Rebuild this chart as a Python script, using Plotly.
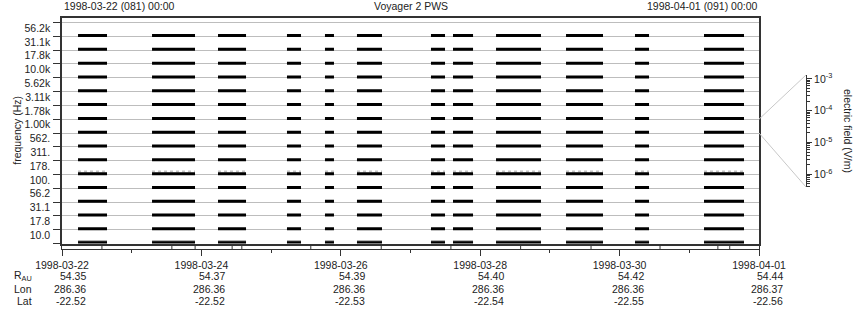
import plotly.graph_objects as go

W, H = 860, 320

# ---------------- data ----------------
freq_labels = ["10.0", "17.8", "31.1", "56.2", "100.", "178.", "311.", "562.",
               "1.00k", "1.78k", "3.11k", "5.62k", "10.0k", "17.8k", "31.1k", "56.2k"]

obs_start = ["1998-03-22 05:31", "1998-03-23 07:00", "1998-03-24 05:43", "1998-03-25 05:28",
             "1998-03-25 18:33", "1998-03-26 05:34", "1998-03-27 07:03", "1998-03-27 14:38",
             "1998-03-28 05:27", "1998-03-29 05:33", "1998-03-30 05:18", "1998-03-31 05:04"]
obs_end = ["1998-03-22 15:30", "1998-03-23 21:48", "1998-03-24 15:22", "1998-03-25 10:18",
           "1998-03-25 21:39", "1998-03-26 14:11", "1998-03-27 11:53", "1998-03-27 21:32",
           "1998-03-28 20:56", "1998-03-29 18:17", "1998-03-30 10:08", "1998-03-31 18:50"]

strip_marks = ["1998-03-22 13:45", "1998-03-23 13:50", "1998-03-23 21:50", "1998-03-24 10:35",
               "1998-03-24 13:55", "1998-03-25 13:40", "1998-03-26 13:55", "1998-03-27 13:55",
               "1998-03-28 13:55", "1998-03-29 14:10", "1998-03-30 13:55", "1998-03-31 09:50",
               "1998-03-31 13:55"]

date_ticks = ["1998-03-22", "1998-03-24", "1998-03-26", "1998-03-28", "1998-03-30", "1998-04-01"]
r_au = ["54.35", "54.37", "54.39", "54.40", "54.42", "54.44"]
lon = ["286.36", "286.36", "286.36", "286.36", "286.36", "286.37"]
lat = ["-22.52", "-22.52", "-22.53", "-22.54", "-22.55", "-22.56"]

cbar_tickvals = [1e-3, 1e-4, 1e-5, 1e-6]
cbar_ticktext = ["10<sup>-3</sup>", "10<sup>-4</sup>", "10<sup>-5</sup>", "10<sup>-6</sup>"]

t_start, t_end = "1998-03-22 00:00", "1998-04-01 00:00"
top_left = "1998-03-22 (081) 00:00"
top_right = "1998-04-01 (091) 00:00"
title = "Voyager 2 PWS"

# ---------------- layout geometry ----------------
def px(x):
    return x / W

def py(y):
    return 1 - y / H

PL, PR, PT, PB = 62, 759, 18, 243.5
YMAX = 16.33
band_h = (PB - PT) / YMAX

def band_py(b):
    return py(PB - b * band_h)

FONT = "Liberation Sans, Arial, sans-serif"
TXT = "#222"
FRAME = "#333"
nb = len(freq_labels)

fig = go.Figure()

# grey speckle rows (drawn under the black bars)
for row, col, off, dash in [(5, "#c4c4c4", 0.21, "dot"), (0, "#9a9a9a", 0.17, "solid")]:
    xs, ys = [], []
    for s, e in zip(obs_start, obs_end):
        xs += [s, e, None]
        ys += [row + off, row + off, None]
    fig.add_trace(go.Scatter(x=xs, y=ys, mode="lines", line=dict(color=col, width=2, dash=dash),
                             hoverinfo="skip", showlegend=False, xaxis="x", yaxis="y"))

# black observation bars at the bottom of every frequency band
xs, ys = [], []
for b in range(nb):
    for s, e in zip(obs_start, obs_end):
        xs += [s, e, None]
        ys += [b + 0.06, b + 0.06, None]
fig.add_trace(go.Scatter(x=xs, y=ys, mode="lines", line=dict(color="black", width=3),
                         hoverinfo="skip", showlegend=False, xaxis="x", yaxis="y"))

# strip marks
xs, ys = [], []
for m in strip_marks:
    xs += [m, m, None]
    ys += [0, 1, None]
fig.add_trace(go.Scatter(x=xs, y=ys, mode="lines", line=dict(color=FRAME, width=1),
                         hoverinfo="skip", showlegend=False, xaxis="x2", yaxis="y2"))

# dummy for colour-scale axis
fig.add_trace(go.Scatter(x=[0.5], y=[1e-4], mode="markers", marker=dict(opacity=0),
                         hoverinfo="skip", showlegend=False, xaxis="x3", yaxis="y3"))

fig.update_layout(
    width=W, height=H, margin=dict(l=0, r=0, t=0, b=0, autoexpand=False),
    paper_bgcolor="white", plot_bgcolor="white",
    font=dict(family=FONT, size=10.5, color=TXT),
    xaxis=dict(domain=[px(PL), px(PR)], range=[t_start, t_end], type="date", automargin=False,
               showline=True, mirror=True, linecolor=FRAME, linewidth=1.5,
               showticklabels=False, ticks="", showgrid=False, zeroline=False, fixedrange=True),
    yaxis=dict(domain=[py(PB), py(PT)], range=[0, YMAX], automargin=False,
               showline=True, mirror=True, linecolor=FRAME, linewidth=1.5,
               tickmode="array", tickvals=[i + 0.6 for i in range(nb)], ticktext=freq_labels,
               ticks="outside", ticklen=8, tickcolor="rgba(0,0,0,0)",
               showgrid=False, zeroline=False,
               minor=dict(tickmode="array", tickvals=list(range(nb + 1)), ticks="outside",
                          ticklen=7, tickcolor=FRAME, tickwidth=1.2,
                          showgrid=True, gridcolor="#bdbdbd", gridwidth=1)),
    xaxis2=dict(domain=[px(PL), px(PR)], range=[t_start, t_end], type="date", anchor="y2",
                automargin=False,
                showline=True, mirror=True, linecolor=FRAME, linewidth=1,
                tickmode="linear", tick0=t_start, dtick=2 * 86400000, tickformat="%Y-%m-%d",
                ticks="outside", ticklen=6, tickcolor=FRAME, tickwidth=1.2,
                minor=dict(tickmode="linear", tick0=t_start, dtick=86400000, ticks="outside",
                           ticklen=3, tickcolor=FRAME, showgrid=False),
                showgrid=False, zeroline=False, tickfont=dict(size=10.5, color=TXT)),
    yaxis2=dict(domain=[py(249), py(245)], range=[0, 1], anchor="x2", automargin=False,
                showline=True, mirror=True, linecolor=FRAME, linewidth=1,
                showticklabels=False, ticks="", showgrid=False, zeroline=False),
    xaxis3=dict(domain=[px(800), px(806)], range=[0, 1], visible=False, anchor="y3",
                automargin=False),
    yaxis3=dict(domain=[py(187), py(75)], type="log", range=[-6.4, -2.88], anchor="x3",
                automargin=False,
                side="right", showline=True, linecolor=FRAME, linewidth=1,
                tickmode="array", tickvals=cbar_tickvals, ticktext=cbar_ticktext,
                ticks="outside", ticklen=5, tickcolor=FRAME, showgrid=False, zeroline=False,
                minor=dict(ticks="outside", ticklen=3, tickcolor=FRAME, dtick="D1"),
                tickfont=dict(size=10.5, color=TXT)),
)

ann = []
ann.append(dict(x=px(PL), y=py(6), xref="paper", yref="paper", text=top_left,
                xanchor="left", yanchor="middle", showarrow=False))
ann.append(dict(x=px((PL + PR) / 2), y=py(6), xref="paper", yref="paper", text=title,
                xanchor="center", yanchor="middle", showarrow=False))
ann.append(dict(x=px(PR), y=py(6), xref="paper", yref="paper", text=top_right,
                xanchor="right", yanchor="middle", showarrow=False))
ann.append(dict(x=px(17), y=py((PT + PB) / 2), xref="paper", yref="paper", text="frequency (Hz)",
                textangle=-90, xanchor="center", yanchor="middle", showarrow=False))
ann.append(dict(x=px(848), y=py(131), xref="paper", yref="paper", text="electric field (V/m)",
                textangle=90, xanchor="center", yanchor="middle", showarrow=False))

for label, vals, yy in [("R<sub>AU</sub>", r_au, 275.5), ("Lon", lon, 288.7), ("Lat", lat, 300.5)]:
    ann.append(dict(x=px(34), y=py(yy), xref="paper", yref="paper", text=label,
                    xanchor="right", yanchor="middle", showarrow=False))
    for d, v in zip(date_ticks, vals):
        ann.append(dict(x=d, y=py(yy), xref="x2", yref="paper", text=v, xshift=26,
                        xanchor="right", yanchor="middle", showarrow=False))
fig.update_layout(annotations=ann)

# connector lines from the 1.00k band to the colour scale
fig.add_shape(type="line", xref="paper", yref="paper", x0=px(PR), y0=band_py(9),
              x1=px(806), y1=py(75), line=dict(color="#c8c8c8", width=1))
fig.add_shape(type="line", xref="paper", yref="paper", x0=px(PR), y0=band_py(8),
              x1=px(806), y1=py(187), line=dict(color="#c8c8c8", width=1))

fig.write_html("out.html")
